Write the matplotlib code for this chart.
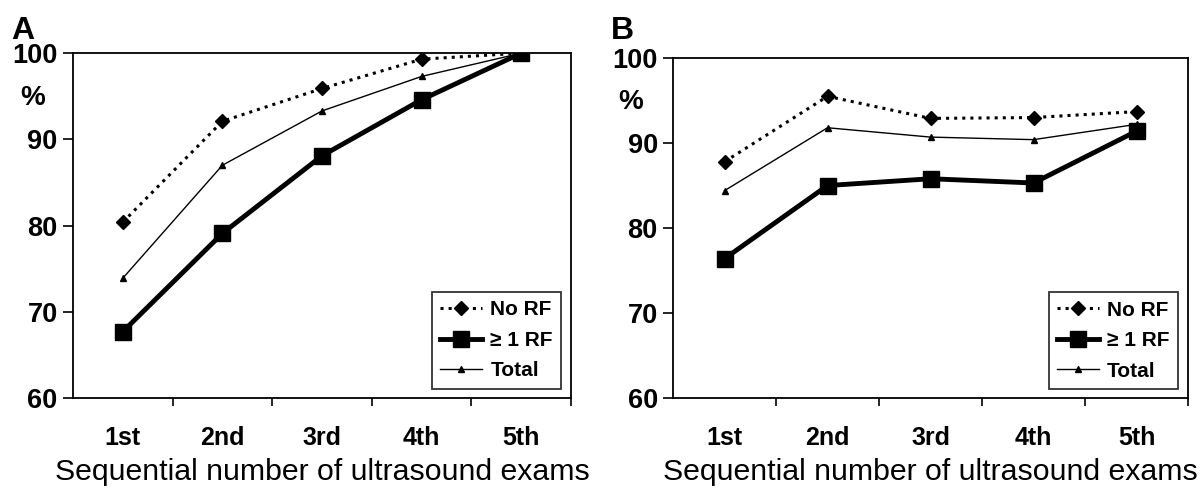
import matplotlib.pyplot as plt
import numpy as np

plt.rcParams['font.family'] = ['Liberation Sans', 'DejaVu Sans']

exams = ['1st', '2nd', '3rd', '4th', '5th']

# panel A
a_no_rf = [80.4, 92.1, 95.9, 99.3, 100.0]
a_rf = [67.7, 79.1, 88.1, 94.6, 100.0]
a_total = [73.9, 87.0, 93.3, 97.3, 100.0]

# panel B
b_no_rf = [87.8, 95.5, 92.9, 93.0, 93.7]
b_rf = [76.4, 85.0, 85.8, 85.3, 91.4]
b_total = [84.4, 91.8, 90.7, 90.4, 92.2]

fig = plt.figure(figsize=(12.01, 4.92), dpi=100)
axA = fig.add_axes([0.0608, 0.191, 0.4147, 0.701])
axB = fig.add_axes([0.5604, 0.191, 0.4288, 0.691])

x = np.arange(1, 6)


def draw(ax, no_rf, rf, total, letter, lx):
    ax.plot(x, no_rf, color='black', ls=':', lw=2.2, marker='D', ms=7, label='No RF')
    ax.plot(x, rf, color='black', ls='-', lw=3.5, marker='s', ms=11, label='\u2265 1 RF')
    ax.plot(x, total, color='black', ls='-', lw=1.0, marker='^', ms=5, label='Total')
    ax.set_xlim(0.5, 5.5)
    ax.set_ylim(60, 100)
    ax.set_yticks([60, 70, 80, 90, 100])
    ax.set_xticks([1.5, 2.5, 3.5, 4.5, 5.5])
    ax.set_xticklabels([])
    ax.set_xticks(x, minor=True)
    ax.set_xticklabels(exams, minor=True, fontsize=18, fontweight='bold')
    ax.tick_params(axis='x', which='minor', length=0, pad=20)
    ax.tick_params(axis='x', which='major', length=6, width=1.2, direction='out')
    ax.tick_params(axis='y', length=7, width=1.2, labelsize=19.5, pad=4)
    for t in ax.get_yticklabels():
        t.set_fontweight('bold')
    for s in ax.spines.values():
        s.set_linewidth(1.3)
    ax.set_xlabel('Sequential number of ultrasound exams', fontsize=21.8, labelpad=6)
    ax.text(-0.082, 0.87, '%', transform=ax.transAxes, fontsize=20, fontweight='bold',
            ha='center', va='center')
    fig.text(lx, 0.937, letter, fontsize=23, fontweight='bold', ha='left', va='center')
    leg = ax.legend(loc='lower right', bbox_to_anchor=(0.98, 0.027), borderaxespad=0,
                    frameon=True, fancybox=False,
                    edgecolor='black', prop={'weight': 'bold', 'size': 15},
                    handlelength=2.0, handletextpad=0.4, labelspacing=0.55, borderpad=0.4)
    leg.get_frame().set_linewidth(1.3)


draw(axA, a_no_rf, a_rf, a_total, 'A', 0.009)
draw(axB, b_no_rf, b_rf, b_total, 'B', 0.509)

fig.savefig('out.png', dpi=100)
